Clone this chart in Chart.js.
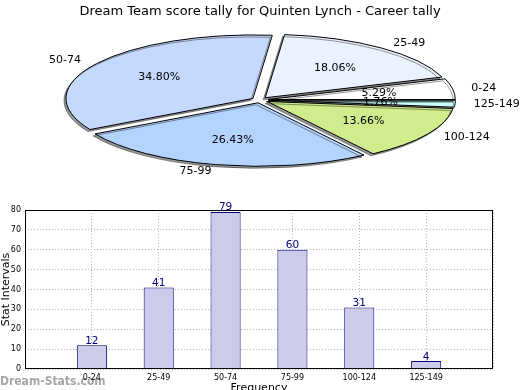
<!DOCTYPE html>
<html>
<head>
<meta charset="utf-8">
<script src="https://cdn.jsdelivr.net/npm/chart.js@4"></script>
<style>
  html, body { margin: 0; padding: 0; background: #fff; width: 520px; height: 390px; overflow: hidden; }
  #pie-chart { position: absolute; left: 0; top: 0; }
  #bar-chart { position: absolute; left: 0; top: 190px; }
</style>
</head>
<body>
<canvas id="pie-chart" width="520" height="190"></canvas>
<canvas id="bar-chart" width="520" height="205"></canvas>
<script>
const categories = ["0-24", "25-49", "50-74", "75-99", "100-124", "125-149"];
const tallies = [12, 41, 79, 60, 31, 4];
const sliceColors = ["#ffffff", "#ebf2ff", "#c5d9ff", "#b3d4ff", "#d0ec8c", "#ccffff"];
const yTicks = [0, 10, 20, 30, 40, 50, 60, 70, 80];

Chart.defaults.font.family = "'DejaVu Sans', sans-serif";
Chart.defaults.color = "#000";

// pie is squashed into an ellipse, like the original matplotlib one
const pieCenter = { x: 260, y: 100 };
const pieRadius = { x: 187, y: 63.5 };
const explode = 0.045;

const squashPie = {
  id: "squashPie",
  beforeDatasetsDraw(chart) {
    const ctx = chart.ctx;
    const arcs = chart.getDatasetMeta(0).data;
    const r = arcs[0].outerRadius;
    arcs.forEach((arc) => {
      if (arc._exploded) return;
      const baseDraw = arc.draw;
      arc.draw = function (c, area) {
        const mid = (this.startAngle + this.endAngle) / 2;
        c.save();
        c.translate(Math.cos(mid) * explode * this.outerRadius, Math.sin(mid) * explode * this.outerRadius);
        baseDraw.call(this, c, area);
        c.restore();
      };
      arc._exploded = true;
    });
    ctx.save();
    ctx.translate(pieCenter.x, pieCenter.y);
    ctx.scale(pieRadius.x / r, pieRadius.y / r);
    ctx.translate(-arcs[0].x, -arcs[0].y);
    ctx.shadowColor = "rgba(0,0,0,0.4)";
    ctx.shadowOffsetX = -2;
    ctx.shadowOffsetY = 2;
    // keep the outline 1px in screen space
    ctx.stroke = function () {
      this.save();
      this.setTransform(1, 0, 0, 1, 0, 0);
      CanvasRenderingContext2D.prototype.stroke.call(this);
      this.restore();
    };
  },
  afterDatasetsDraw(chart) {
    const ctx = chart.ctx;
    delete ctx.stroke;
    ctx.restore();
  },
};

const pieLabels = {
  id: "pieLabels",
  afterDraw(chart) {
    const ctx = chart.ctx;
    const values = chart.data.datasets[0].data;
    const total = values.reduce((a, b) => a + b, 0);
    ctx.save();
    ctx.font = "11px 'DejaVu Sans'";
    ctx.fillStyle = "#000";
    ctx.textBaseline = "middle";
    chart.getDatasetMeta(0).data.forEach((arc, i) => {
      const mid = (arc.startAngle + arc.endAngle) / 2;
      const dx = Math.cos(mid), dy = Math.sin(mid);
      const at = (k) => [pieCenter.x + dx * k * pieRadius.x, pieCenter.y + dy * k * pieRadius.y];
      let [x, y] = at(1.1 + explode);
      ctx.textAlign = dx >= 0 ? "left" : "right";
      ctx.fillText(chart.data.labels[i], x, y);
      [x, y] = at(0.6 + explode);
      ctx.textAlign = "center";
      ctx.fillText(((values[i] / total) * 100).toFixed(2) + "%", x, y);
    });
    ctx.restore();
  },
};

// chart.js goes clockwise, matplotlib counter-clockwise -> reverse
new Chart(document.getElementById("pie-chart"), {
  type: "pie",
  data: {
    labels: categories.slice().reverse(),
    datasets: [{
      data: tallies.slice().reverse(),
      backgroundColor: sliceColors.slice().reverse(),
      borderColor: "#000",
      borderWidth: 1,
    }],
  },
  options: {
    responsive: false,
    animation: false,
    rotation: 90,
    plugins: {
      legend: { display: false },
      tooltip: { enabled: false },
      title: {
        display: true,
        text: "Dream Team score tally for Quinten Lynch - Career tally",
        font: { size: 13, weight: "normal" },
        color: "#000",
        padding: { top: 4, bottom: 4 },
      },
    },
  },
  plugins: [squashPie, pieLabels],
});

const barValues = {
  id: "barValues",
  afterDatasetsDraw(chart) {
    const ctx = chart.ctx;
    ctx.save();
    ctx.font = "10.5px 'DejaVu Sans'";
    ctx.fillStyle = "#000080";
    ctx.textAlign = "center";
    ctx.textBaseline = "bottom";
    chart.getDatasetMeta(0).data.forEach((bar, i) => {
      ctx.fillText(tallies[i], bar.x, bar.y + 1);
    });
    ctx.restore();
  },
};

const frame = {
  id: "frame",
  afterDraw(chart) {
    const { left, top, width, height } = chart.chartArea;
    const ctx = chart.ctx;
    ctx.save();
    ctx.strokeStyle = "#000";
    ctx.lineWidth = 1;
    ctx.strokeRect(Math.round(left) + 0.5, Math.round(top) + 0.5, Math.round(width) - 1, Math.round(height) - 1);
    ctx.restore();
  },
};

const watermark = {
  id: "watermark",
  beforeDraw(chart) {
    const ctx = chart.ctx;
    ctx.save();
    ctx.font = "bold 12px 'DejaVu Sans Condensed', 'DejaVu Sans'";
    ctx.fillStyle = "#a6a6a6";
    ctx.textBaseline = "alphabetic";
    ctx.fillText("Dream-Stats.com", 0, 195);
    ctx.restore();
  },
};

new Chart(document.getElementById("bar-chart"), {
  type: "bar",
  data: {
    datasets: [{
      data: categories.map((c, i) => ({ x: i, y: tallies[i] })),
      backgroundColor: "#ccccea",
      borderColor: "#000080",
      borderWidth: 1,
      barPercentage: 0.45,
      categoryPercentage: 1,
    }],
  },
  options: {
    responsive: false,
    animation: false,
    layout: { padding: { top: 20, right: 27, left: 0, bottom: 0 } },
    plugins: { legend: { display: false }, tooltip: { enabled: false } },
    scales: {
      x: {
        type: "linear",
        min: -1,
        max: 6,
        offset: false,
        afterFit: (s) => { s.height = 26; },
        grid: { color: "#b5b5b5", drawTicks: false, offset: false },
        border: { display: false, dash: [1, 2] },
        ticks: {
          stepSize: 1,
          padding: 4,
          autoSkip: false,
          maxRotation: 0,
          font: { size: 8 },
          callback: (v) => categories[v] ?? "",
        },
        title: { display: true, text: "Frequency", padding: 0, font: { size: 11 } },
      },
      y: {
        min: 0,
        max: 80,
        afterFit: (s) => { s.width = 25; },
        afterBuildTicks: (s) => { s.ticks = yTicks.map((v) => ({ value: v })); },
        grid: { color: "#b5b5b5", drawTicks: false },
        border: { display: false, dash: [1, 2] },
        ticks: { padding: 4, font: { size: 8 } },
        title: { display: true, text: "Stat Intervals", padding: 0, font: { size: 11 } },
      },
    },
  },
  plugins: [barValues, frame, watermark],
});
</script>
</body>
</html>
